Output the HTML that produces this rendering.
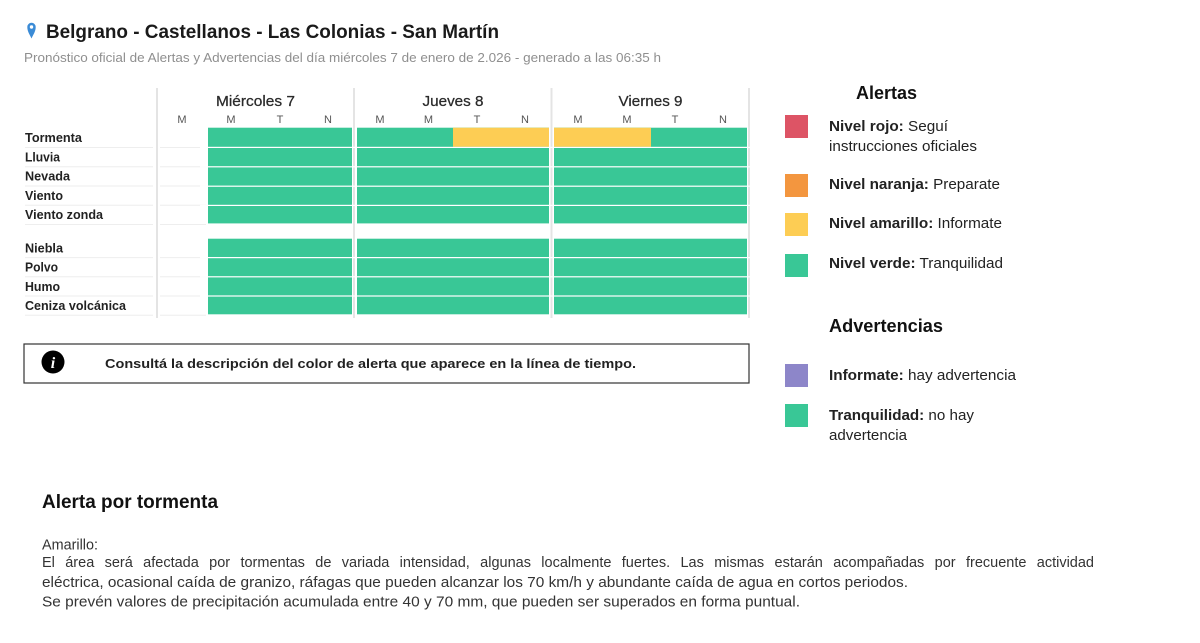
<!DOCTYPE html>
<html>
<head>
<meta charset="utf-8">
<style>
  html, body { margin: 0; padding: 0; background: #fff; }
  body { width: 1200px; height: 643px; position: relative; overflow: hidden; font-family: "Liberation Sans", Arial, sans-serif; }
  svg { position: absolute; left: 0; top: 0; }
  .just { position: absolute; left: 42px; top: 553.5px; width: 1052px; font-size: 14.5px; line-height: 19px; color: #333; text-align: justify; text-align-last: justify; white-space: nowrap; font-family: "Liberation Sans", Arial, sans-serif; }
</style>
</head>
<body>
<svg width="1200" height="643" viewBox="0 0 1200 643" xmlns="http://www.w3.org/2000/svg" font-family="'Liberation Sans', Arial, sans-serif">
  <rect x="0" y="0" width="1200" height="643" fill="#ffffff"/>

  <!-- Header -->
  <path d="M31.5,38.5 C29.7,34.5 27.3,31.5 27.3,27 A4.2,4.2 0 1 1 35.7,27 C35.7,31.5 33.3,34.5 31.5,38.5 Z" fill="#3b8bd6"/>
  <circle cx="31.5" cy="27" r="1.7" fill="#ffffff"/>
  <text x="46" y="38" font-size="19" font-weight="bold" fill="#1a1a1a" textLength="453" lengthAdjust="spacingAndGlyphs">Belgrano - Castellanos - Las Colonias - San Martín</text>
  <text x="24" y="62" font-size="12.5" fill="#8f8f8f" textLength="637" lengthAdjust="spacingAndGlyphs">Pronóstico oficial de Alertas y Advertencias del día miércoles 7 de enero de 2.026 - generado a las 06:35 h</text>

  <!-- Grid light row lines -->
  <g stroke="#eeeeee" stroke-width="1">
    <line x1="25" y1="147.5" x2="153" y2="147.5"/><line x1="160" y1="147.5" x2="206" y2="147.5"/>
    <line x1="25" y1="166.8" x2="153" y2="166.8"/><line x1="160" y1="166.8" x2="206" y2="166.8"/>
    <line x1="25" y1="186" x2="153" y2="186"/><line x1="160" y1="186" x2="206" y2="186"/>
    <line x1="25" y1="205.3" x2="153" y2="205.3"/><line x1="160" y1="205.3" x2="206" y2="205.3"/>
    <line x1="25" y1="224.5" x2="153" y2="224.5"/><line x1="160" y1="224.5" x2="206" y2="224.5"/>
    <line x1="25" y1="257.6" x2="153" y2="257.6"/><line x1="160" y1="257.6" x2="206" y2="257.6"/>
    <line x1="25" y1="276.8" x2="153" y2="276.8"/><line x1="160" y1="276.8" x2="206" y2="276.8"/>
    <line x1="25" y1="296" x2="153" y2="296"/><line x1="160" y1="296" x2="206" y2="296"/>
    <line x1="25" y1="315.3" x2="153" y2="315.3"/><line x1="160" y1="315.3" x2="206" y2="315.3"/>
  </g>

  <!-- Vertical separators -->
  <g stroke="#e4e4e4" stroke-width="2">
    <line x1="157" y1="88" x2="157" y2="318"/>
    <line x1="354" y1="88" x2="354" y2="318"/>
    <line x1="551.5" y1="88" x2="551.5" y2="318"/>
    <line x1="749" y1="88" x2="749" y2="318"/>
  </g>

  <!-- Day headers -->
  <g font-size="14.5" fill="#2a2a2a" text-anchor="middle" stroke="#2a2a2a" stroke-width="0.25">
    <text x="255.5" y="106" textLength="79" lengthAdjust="spacingAndGlyphs">Miércoles 7</text>
    <text x="453" y="106" textLength="61" lengthAdjust="spacingAndGlyphs">Jueves 8</text>
    <text x="650.5" y="106" textLength="64" lengthAdjust="spacingAndGlyphs">Viernes 9</text>
  </g>
  <g font-size="11" fill="#555" text-anchor="middle">
    <text x="182" y="123">M</text><text x="231" y="123">M</text><text x="280" y="123">T</text><text x="328" y="123">N</text>
    <text x="380" y="123">M</text><text x="428.5" y="123">M</text><text x="477" y="123">T</text><text x="525" y="123">N</text>
    <text x="578" y="123">M</text><text x="627" y="123">M</text><text x="675" y="123">T</text><text x="723" y="123">N</text>
  </g>

  <!-- Row labels -->
  <g font-size="12.5" font-weight="bold" fill="#222">
    <text x="25" y="142" textLength="57" lengthAdjust="spacingAndGlyphs">Tormenta</text>
    <text x="25" y="161.3" textLength="35" lengthAdjust="spacingAndGlyphs">Lluvia</text>
    <text x="25" y="180.6" textLength="45" lengthAdjust="spacingAndGlyphs">Nevada</text>
    <text x="25" y="200" textLength="38" lengthAdjust="spacingAndGlyphs">Viento</text>
    <text x="25" y="219.2" textLength="78" lengthAdjust="spacingAndGlyphs">Viento zonda</text>
    <text x="25" y="252.3" textLength="38" lengthAdjust="spacingAndGlyphs">Niebla</text>
    <text x="25" y="271.6" textLength="33" lengthAdjust="spacingAndGlyphs">Polvo</text>
    <text x="25" y="290.9" textLength="35" lengthAdjust="spacingAndGlyphs">Humo</text>
    <text x="25" y="310.2" textLength="101" lengthAdjust="spacingAndGlyphs">Ceniza volcánica</text>
  </g>

  <!-- Green blocks -->
  <g fill="#39c796">
    <rect x="208" y="127.7" width="144" height="95.7"/>
    <rect x="357" y="127.7" width="192" height="95.7"/>
    <rect x="554" y="127.7" width="193" height="95.7"/>
    <rect x="208" y="238.7" width="144" height="75.6"/>
    <rect x="357" y="238.7" width="192" height="75.6"/>
    <rect x="554" y="238.7" width="193" height="75.6"/>
  </g>
  <!-- Yellow cells -->
  <g fill="#fdcd54">
    <rect x="453" y="127.7" width="96" height="19.1"/>
    <rect x="554" y="127.7" width="97" height="19.1"/>
  </g>
  <!-- White row separators -->
  <g fill="#ffffff">
    <rect x="200" y="146.8" width="560" height="1.2"/>
    <rect x="200" y="166.2" width="560" height="1.2"/>
    <rect x="200" y="185.6" width="560" height="1.2"/>
    <rect x="200" y="204.8" width="560" height="1.2"/>
    <rect x="200" y="257.0" width="560" height="1.2"/>
    <rect x="200" y="276.2" width="560" height="1.2"/>
    <rect x="200" y="295.4" width="560" height="1.2"/>
  </g>

  <!-- Info box -->
  <rect x="24" y="344" width="725" height="39" fill="none" stroke="#333" stroke-width="1.2"/>
  <circle cx="53" cy="362" r="11.5" fill="#000"/>
  <text x="53" y="368" font-size="16" font-weight="bold" font-style="italic" fill="#fff" text-anchor="middle" font-family="'Liberation Serif', serif">i</text>
  <text x="105" y="368" font-size="13" font-weight="bold" fill="#222" textLength="531" lengthAdjust="spacingAndGlyphs">Consultá la descripción del color de alerta que aparece en la línea de tiempo.</text>

  <!-- Legend: Alertas -->
  <text x="856" y="99" font-size="18" font-weight="bold" fill="#111" textLength="61" lengthAdjust="spacingAndGlyphs">Alertas</text>
  <rect x="785" y="115" width="23" height="23" fill="#dd5465"/>
  <rect x="785" y="174" width="23" height="23" fill="#f3963f"/>
  <rect x="785" y="213" width="23" height="23" fill="#fdcd54"/>
  <rect x="785" y="254" width="23" height="23" fill="#39c796"/>
  <g font-size="14.5" fill="#222">
    <text x="829" y="131" textLength="119" lengthAdjust="spacingAndGlyphs"><tspan font-weight="bold">Nivel rojo:</tspan> Seguí</text>
    <text x="829" y="151" textLength="148" lengthAdjust="spacingAndGlyphs">instrucciones oficiales</text>
    <text x="829" y="189" textLength="171" lengthAdjust="spacingAndGlyphs"><tspan font-weight="bold">Nivel naranja:</tspan> Preparate</text>
    <text x="829" y="228" textLength="173" lengthAdjust="spacingAndGlyphs"><tspan font-weight="bold">Nivel amarillo:</tspan> Informate</text>
    <text x="829" y="268" textLength="174" lengthAdjust="spacingAndGlyphs"><tspan font-weight="bold">Nivel verde:</tspan> Tranquilidad</text>
  </g>

  <!-- Legend: Advertencias -->
  <text x="829" y="332" font-size="18" font-weight="bold" fill="#111" textLength="114" lengthAdjust="spacingAndGlyphs">Advertencias</text>
  <rect x="785" y="364" width="23" height="23" fill="#8d86c9"/>
  <rect x="785" y="404" width="23" height="23" fill="#39c796"/>
  <g font-size="14.5" fill="#222">
    <text x="829" y="380" textLength="187" lengthAdjust="spacingAndGlyphs"><tspan font-weight="bold">Informate:</tspan> hay advertencia</text>
    <text x="829" y="420" textLength="145" lengthAdjust="spacingAndGlyphs"><tspan font-weight="bold">Tranquilidad:</tspan> no hay</text>
    <text x="829" y="440" textLength="78" lengthAdjust="spacingAndGlyphs">advertencia</text>
  </g>

  <!-- Body -->
  <text x="42" y="508" font-size="19" font-weight="bold" fill="#111" textLength="176" lengthAdjust="spacingAndGlyphs">Alerta por tormenta</text>
  <g font-size="14.5" fill="#333">
    <text x="42" y="549.5" textLength="56" lengthAdjust="spacingAndGlyphs">Amarillo:</text>
    <text x="42" y="587" textLength="866" lengthAdjust="spacingAndGlyphs">eléctrica, ocasional caída de granizo, ráfagas que pueden alcanzar los 70 km/h y abundante caída de agua en cortos periodos.</text>
    <text x="42" y="606.5" textLength="758" lengthAdjust="spacingAndGlyphs">Se prevén valores de precipitación acumulada entre 40 y 70 mm, que pueden ser superados en forma puntual.</text>
  </g>
</svg>
<div class="just">El área será afectada por tormentas de variada intensidad, algunas localmente fuertes. Las mismas estarán acompañadas por frecuente actividad</div>
</body>
</html>
